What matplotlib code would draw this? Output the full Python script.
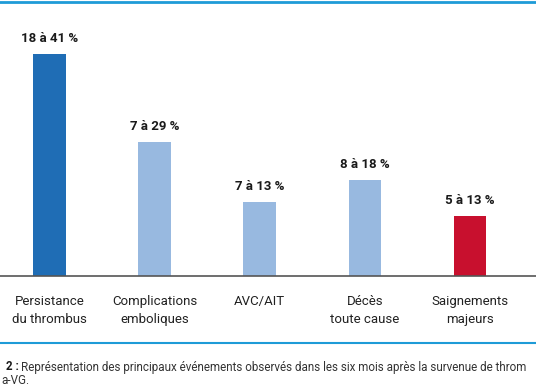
import matplotlib.pyplot as plt

categories = ['Persistance\ndu thrombus', 'Complications\nemboliques', 'AVC/AIT',
              'Décès\ntoute cause', 'Saignements\nmajeurs']
heights = [29.6, 17.8, 9.9, 12.8, 8.0]
value_labels = ['18 à 41 %', '7 à 29 %', '7 à 13 %', '8 à 18 %', '5 à 13 %']
colors = ['#1f6db5', '#98b9e0', '#98b9e0', '#98b9e0', '#c8102e']

plt.rcParams['font.family'] = ['Liberation Sans Narrow', 'Roboto', 'DejaVu Sans']

fig = plt.figure(figsize=(5.36, 3.86), dpi=100)
ax = fig.add_axes([0, 110 / 386, 1, 246 / 386])

x = list(range(len(categories)))
ax.bar(x, heights, width=0.31, color=colors, zorder=2)
for xi, h, lab in zip(x, heights, value_labels):
    ax.text(xi, h + 1.2, lab, ha='center', va='bottom', fontsize=9.5,
            fontweight='bold', color='#1a1a1a')

ax.set_xlim(-0.471, 4.628)
ax.set_ylim(0, 32.8)
for s in ['top', 'right', 'left']:
    ax.spines[s].set_visible(False)
ax.spines['bottom'].set_color('#555555')
ax.spines['bottom'].set_linewidth(1.2)
ax.set_yticks([])
ax.set_xticks(x)
ax.set_xticklabels(categories, fontsize=9.5, color='#222222', linespacing=1.5)
ax.tick_params(axis='x', length=0, pad=14)

# lignes bleues (haut et séparateur)
fig.add_artist(plt.Line2D([0, 1], [1 - 1.5 / 386, 1 - 1.5 / 386], color='#1e9bd7', lw=2))
fig.add_artist(plt.Line2D([0, 1], [1 - 343 / 386, 1 - 343 / 386], color='#1e9bd7', lw=1.5))

# légende (coupée au bord comme dans l'image d'origine)
fig.text(0.012, 1 - 367 / 386, '2 :', fontsize=8.4, fontweight='bold', color='#1a1a1a', va='center')
fig.text(0.039, 1 - 367 / 386,
         'Représentation des principaux événements observés dans les six mois après la survenue de throm',
         fontsize=8.4, color='#333333', va='center')
fig.text(0.002, 1 - 381 / 386, 'a-VG.', fontsize=8.4, color='#333333', va='center')

fig.savefig('out.png', dpi=100)
